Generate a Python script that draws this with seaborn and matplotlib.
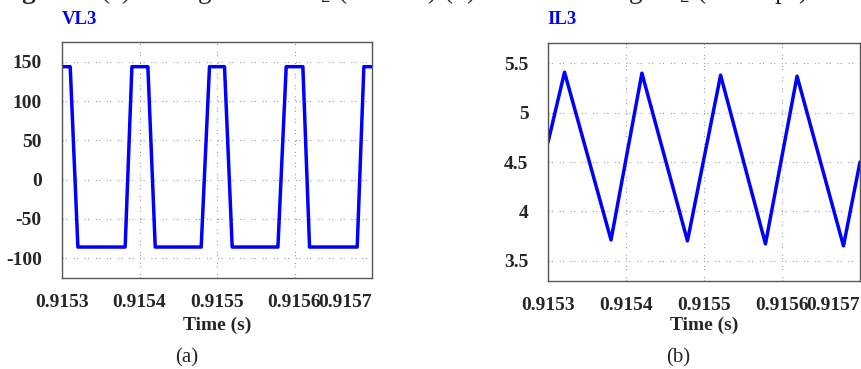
import matplotlib
matplotlib.use("Agg")
import matplotlib.pyplot as plt
import seaborn as sns
import pandas as pd

# ---- data ----
t_v = [0.9153000, 0.9153106, 0.9153205, 0.9153815, 0.9153902, 0.9154108,
       0.9154203, 0.9154796, 0.9154903, 0.9155097, 0.9155196, 0.9155786,
       0.9155893, 0.9156108, 0.9156194, 0.9156809, 0.9156895, 0.9157000]
vl3 = [144, 144, -86, -86, 144, 144, -86, -86, 144, 144, -86, -86,
       144, 144, -86, -86, 144, 144]

t_i = [0.9153000, 0.9153212, 0.9153808, 0.9154204, 0.9154788, 0.9155213,
       0.9155788, 0.9156193, 0.9156788, 0.9157000]
il3 = [4.70, 5.41, 3.71, 5.40, 3.70, 5.38, 3.67, 5.37, 3.65, 4.50]

x_ticks = [0.9153, 0.9154, 0.9155, 0.9156, 0.9157]
x_labels = ["0.9153", "0.9154", "0.9155", "0.9156", "0.9157"]
v_ticks = [150, 100, 50, 0, -50, -100]
v_labels = ["150", "100", "50", "0", "-50", "-100"]
i_ticks = [5.5, 5.0, 4.5, 4.0, 3.5]
i_labels = ["5.5", "5", "4.5", "4", "3.5"]

titles = ["VL3", "IL3"]
xlabel = "Time (s)"
sublabels = ["(a)", "(b)"]
caption_bold = "Figure 6"
caption_rest = "(a) Voltage across L$_2$ (in volts) (b) Current through L$_2$ (in Amps)"

# ---- style ----
sns.set_style("white")
plt.rcParams["font.family"] = ["Liberation Serif", "DejaVu Serif"]
plt.rcParams["mathtext.fontset"] = "custom"
plt.rcParams["mathtext.rm"] = "Liberation Serif"

W, H = 861, 369
fig = plt.figure(figsize=(W / 100, H / 100), dpi=100)

def box(l, t, r, b):
    return [l / W, 1 - b / H, (r - l) / W, (b - t) / H]

ax1 = fig.add_axes(box(62, 42, 372, 278))
ax2 = fig.add_axes(box(548, 43, 860, 281))

df_v = pd.DataFrame({"t": t_v, "v": vl3})
df_i = pd.DataFrame({"t": t_i, "i": il3})
sns.lineplot(data=df_v, x="t", y="v", ax=ax1, color="#0000ff", lw=2.5,
             estimator=None, sort=False)
sns.lineplot(data=df_i, x="t", y="i", ax=ax2, color="#0000ff", lw=2.5,
             estimator=None, sort=False)

ax1.set_ylim(-125.5, 175.5)
ax2.set_ylim(3.294, 5.706)

for ax, yt, yl, pad in [(ax1, v_ticks, v_labels, 14.5), (ax2, i_ticks, i_labels, 14)]:
    ax.set_xlim(0.9153, 0.9157)
    ax.set_xticks(x_ticks)
    ax.set_xticklabels(x_labels, fontweight="bold", fontsize=14)
    ax.set_yticks(yt)
    ax.set_yticklabels(yl, fontweight="bold", fontsize=14)
    ax.tick_params(axis="y", length=0, pad=pad)
    ax.tick_params(axis="x", length=0, pad=11.5)
    ax.get_xticklabels()[-1].set_horizontalalignment("right")
    ax.set_xlabel("")
    ax.set_ylabel("")
    ax.grid(True, color="#9a9a9a", lw=0.8, linestyle=(0, (1, 2, 1, 6)))
    for s in ax.spines.values():
        s.set_color("#555555")
        s.set_linewidth(1.0)
    cx = (ax.get_position().x0 + ax.get_position().x1) / 2
    fig.text(cx, 1 - 325 / H, xlabel, ha="center", va="center",
             fontweight="bold", fontsize=14)

fig.text(62 / W, 1 - 19.5 / H, titles[0], color="#0000ff", fontweight="bold",
         fontsize=13.5, ha="left", va="center")
fig.text(547 / W, 1 - 19.5 / H, titles[1], color="#0000ff", fontweight="bold",
         fontsize=13.5, ha="left", va="center")

fig.text(187 / W, 1 - 358 / H, sublabels[0], ha="center", va="center", fontsize=15)
fig.text(678 / W, 1 - 358 / H, sublabels[1], ha="center", va="center", fontsize=15)

# caption line, mostly cut off at the top edge as in the reference
fig.text(95 / W, 1 + 2 / H, caption_bold, fontweight="bold", fontsize=19.5,
         ha="right", va="baseline")
fig.text(100 / W, 1 + 2 / H, caption_rest, fontsize=19.5,
         ha="left", va="baseline")

fig.savefig("out.png", dpi=100)
